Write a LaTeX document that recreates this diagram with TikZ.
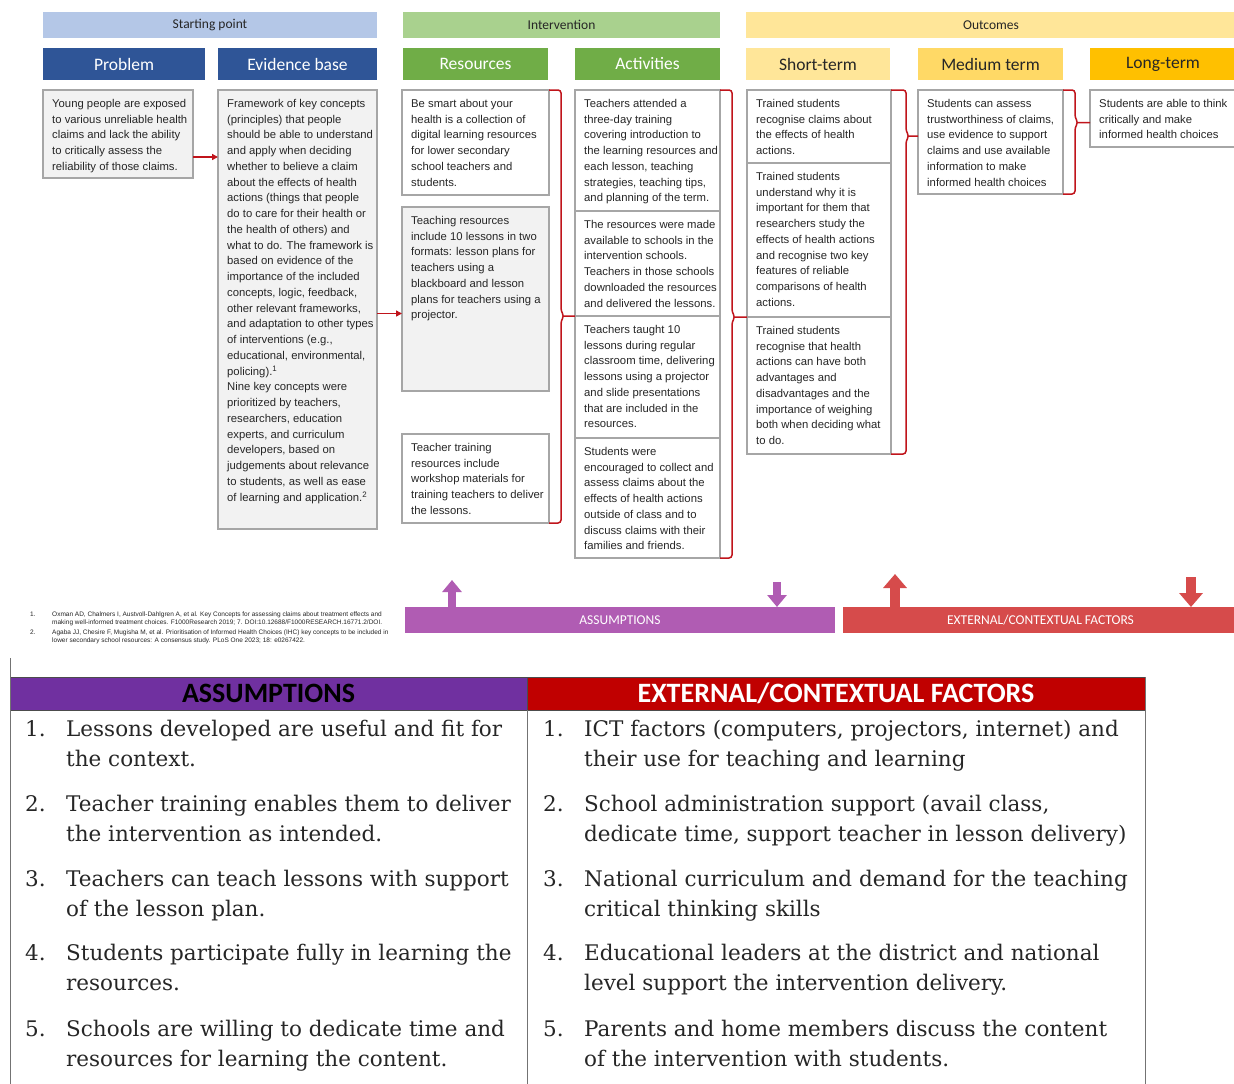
\documentclass[tikz,border=0pt]{standalone}
\usepackage{fontspec}
\setmainfont{Liberation Sans}
\newfontfamily\calib{Carlito}
\newfontfamily\arialf{Liberation Sans}
\newfontfamily\tabserif{DejaVu Serif}
\usetikzlibrary{arrows.meta,calc}

\definecolor{spblue}{HTML}{B4C7E7}
\definecolor{ivgreen}{HTML}{A9D18E}
\definecolor{ocyellow}{HTML}{FFE699}
\definecolor{darkblue}{HTML}{2F5597}
\definecolor{midgreen}{HTML}{70AD47}
\definecolor{medyellow}{HTML}{FFD966}
\definecolor{gold}{HTML}{FFC000}
\definecolor{boxgray}{HTML}{A6A6A6}
\definecolor{boxfill}{HTML}{F2F2F2}
\definecolor{txtgray}{HTML}{262626}
\definecolor{linkred}{HTML}{C0141B}
\definecolor{barpurple}{HTML}{B05CB3}
\definecolor{barred}{HTML}{D64B4B}
\definecolor{thpurple}{HTML}{7030A0}
\definecolor{thred}{HTML}{C00000}

\tikzset{
  band/.style={anchor=north west, inner sep=0pt, outer sep=0pt, minimum height=26pt,
    font=\calib\fontsize{13.5}{15}\selectfont, text=txtgray},
  colhead/.style={anchor=north west, inner sep=0pt, outer sep=0pt, minimum height=32pt,
    font=\calib\fontsize{17.5}{20}\selectfont},
  tbx/.style={draw=boxgray, line width=1.3pt, anchor=north west, inner sep=0pt, outer sep=0pt},
  btxt/.style={anchor=north west, inner sep=0pt, align=left,
    font=\arialf\fontsize{11.3}{15.75}\selectfont, text=txtgray},
  conn/.style={draw=linkred, line width=1.5pt, -{Triangle[length=6pt,width=6pt]}},
  brc/.style={draw=linkred, line width=1.5pt, rounded corners=3pt},
  barlbl/.style={anchor=north west, inner sep=0pt, outer sep=0pt, minimum height=26pt,
    font=\calib\fontsize{13.5}{15}\selectfont, text=white},
  pfat/.style={draw=barpurple, line width=8pt, -{Triangle[length=12pt,width=19pt]}},
  rfat/.style={draw=barred, line width=10pt, -{Triangle[length=14pt,width=23pt]}},
  fnote/.style={anchor=base west, inner sep=0pt, align=left,
    font=\arialf\fontsize{6.5}{8.8}\selectfont, text=txtgray},
  thead/.style={anchor=north west, inner sep=0pt, outer sep=0pt, minimum height=33pt,
    draw=black!70, line width=0.6pt, font=\calib\bfseries\fontsize{28}{30}\selectfont},
  tline/.style={draw=black!55, line width=1pt},
  tnum/.style={anchor=base west, inner sep=0pt, font=\tabserif\fontsize{21.5}{30}\selectfont, text=txtgray},
  titm/.style={anchor=base west, inner sep=0pt, align=left, font=\tabserif\fontsize{21.5}{30}\selectfont, text=txtgray}
}

% box with top-aligned text: name, x, y, width, height, fill, text
\newcommand\tbox[7]{%
  \node[tbx, fill=#6, minimum width=#4pt, minimum height=#5pt] (#1) at (#2,#3) {};
  \node[btxt] (#1t) at ([xshift=9pt,yshift=-9pt]#1.north west) {#7};
}
% right brace from a column of boxes to the next column
\newcommand\rbr[4]{%
  \draw[brc] let \p1=(#1), \p2=(#2), \p3=(#4) in
    (\x1,\y1) -- (\x1+#3,\y1) -- (\x1+#3,\y3+5pt) -- (\x1+#3+3pt,\y3)
    -- (\x1+#3,\y3-5pt) -- (\x1+#3,\y2) -- (\x2,\y2)
    (\x1+#3+2pt,\y3) -- (\x3,\y3);
}

\begin{document}
\begin{tikzpicture}[x=1pt,y=-1pt]
\useasboundingbox[fill=white] (0,0) rectangle (1234,1084);

% ---- group bands ----
\node[band, fill=spblue, minimum width=334pt] (gsp) at (43,12) {Starting point};
\node[band, fill=ivgreen, minimum width=317pt] (giv) at (403,12) {Intervention};
\node[band, fill=ocyellow, minimum width=490pt] (goc) at (746,12) {Outcomes};

% ---- column headings ----
\node[colhead, fill=darkblue, text=white, minimum width=162pt] (hprob) at (43,48) {Problem};
\node[colhead, fill=darkblue, text=white, minimum width=159pt] (hevid) at (218,48) {Evidence base};
\node[colhead, fill=midgreen, text=white, minimum width=145pt] (hres) at (403,48) {Resources};
\node[colhead, fill=midgreen, text=white, minimum width=145pt] (hact) at (575,48) {Activities};
\node[colhead, fill=ocyellow, text=txtgray, minimum width=144pt] (hshort) at (746,48) {Short-term};
\node[colhead, fill=medyellow, text=txtgray, minimum width=145pt] (hmed) at (918,48) {Medium term};
\node[colhead, fill=gold, text=txtgray, minimum width=146pt] (hlong) at (1090,48) {Long-term};

% ---- starting point ----
\tbox{prob}{43}{90}{150}{88}{boxfill}{Young people are exposed\\to various unreliable health\\claims and lack the ability\\to critically assess the\\reliability of those claims.}
\tbox{evid}{218}{90}{159}{439}{boxfill}{Framework of key concepts\\(principles) that people\\should be able to understand\\and apply when deciding\\whether to believe a claim\\about the effects of health\\actions (things that people\\do to care for their health or\\the health of others) and\\what to do. The framework is\\based on evidence of the\\importance of the included\\concepts, logic, feedback,\\other relevant frameworks,\\and adaptation to other types\\of interventions (e.g.,\\educational, environmental,\\policing).\textsuperscript{1}\\Nine key concepts were\\prioritized by teachers,\\researchers, education\\experts, and curriculum\\developers, based on\\judgements about relevance\\to students, as well as ease\\of learning and application.\textsuperscript{2}}

% ---- resources ----
\tbox{res1}{402}{90}{147}{105}{white}{Be smart about your\\health is a collection of\\digital learning resources\\for lower secondary\\school teachers and\\students.}
\tbox{res2}{402}{207}{147}{184}{boxfill}{Teaching resources\\include 10 lessons in two\\formats: lesson plans for\\teachers using a\\blackboard and lesson\\plans for teachers using a\\projector.}
\tbox{res3}{402}{434}{147}{89}{white}{Teacher training\\resources include\\workshop materials for\\training teachers to deliver\\the lessons.}

% ---- activities ----
\tbox{act1}{575}{90}{145}{121}{white}{Teachers attended a\\three-day training\\covering introduction to\\the learning resources and\\each lesson, teaching\\strategies, teaching tips,\\and planning of the term.}
\tbox{act2}{575}{211}{145}{105}{white}{The resources were made\\available to schools in the\\intervention schools.\\Teachers in those schools\\downloaded the resources\\and delivered the lessons.}
\tbox{act3}{575}{316}{145}{122}{white}{Teachers taught 10\\lessons during regular\\classroom time, delivering\\lessons using a projector\\and slide presentations\\that are included in the\\resources.}
\tbox{act4}{575}{438}{145}{120}{white}{Students were\\encouraged to collect and\\assess claims about the\\effects of health actions\\outside of class and to\\discuss claims with their\\families and friends.}

% ---- outcomes ----
\tbox{sh1}{747}{90}{144}{73}{white}{Trained students\\recognise claims about\\the effects of health\\actions.}
\tbox{sh2}{747}{163}{144}{154}{white}{Trained students\\understand why it is\\important for them that\\researchers study the\\effects of health actions\\and recognise two key\\features of reliable\\comparisons of health\\actions.}
\tbox{sh3}{747}{317}{144}{137}{white}{Trained students\\recognise that health\\actions can have both\\advantages and\\disadvantages and the\\importance of weighing\\both when deciding what\\to do.}
\tbox{med}{918}{90}{145}{104}{white}{Students can assess\\trustworthiness of claims,\\use evidence to support\\claims and use available\\information to make\\informed health choices}
\tbox{long}{1090}{90}{150}{57}{white}{Students are able to think\\critically and make\\informed health choices}

% ---- links ----
\draw[conn] ([yshift=21pt]prob.south east) coordinate (pa) -- (pa -| evid.west);
\draw[conn] ([yshift=-4pt]evid.east) coordinate (ea) -- (ea -| res2.west);
\rbr{res1.north east}{res3.south east}{12pt}{act3.north west}
\rbr{act1.north east}{act4.south east}{12pt}{sh3.north west}
\rbr{sh1.north east}{sh3.south east}{15pt}{[yshift=6pt]med.west}
\rbr{med.north east}{med.south east}{12pt}{[yshift=-4pt]long.west}

% ---- references (base anchor sits on the last line) ----
\node[fnote] (fn1n) at (30,616) {1.};
\node[fnote] (fn1) at (52,624.8) {Oxman AD, Chalmers I, Austvoll-Dahlgren A, et al. Key Concepts for assessing claims about treatment effects and\\making well-informed treatment choices. F1000Research 2019; 7. DOI:10.12688/F1000RESEARCH.16771.2/DOI.};
\node[fnote] (fn2n) at (30,634) {2.};
\node[fnote] (fn2) at (52,642.8) {Agaba JJ, Chesire F, Mugisha M, et al. Prioritisation of Informed Health Choices (IHC) key concepts to be included in\\lower secondary school resources: A consensus study. PLoS One 2023; 18: e0267422.};

% ---- assumption / context bars ----
\node[barlbl, fill=barpurple, minimum width=430pt] (abar) at (405,607) {ASSUMPTIONS};
\node[barlbl, fill=barred, minimum width=395pt] (ebar) at (843,607) {EXTERNAL/CONTEXTUAL FACTORS};
\coordinate (au) at (452,580);
\coordinate (ad) at (777,582);
\coordinate (eu) at (895,574);
\coordinate (ed) at (1191,577);
\draw[pfat] (abar.north -| au) -- (au);
\draw[pfat] (ad) -- (abar.north -| ad);
\draw[rfat] (ebar.north -| eu) -- (eu);
\draw[rfat] (ed) -- (ebar.north -| ed);

% ---- table ----
\node[thead, fill=thpurple, text=black, minimum width=517pt] (tha) at (10,677) {ASSUMPTIONS};
\node[thead, fill=thred, text=white, minimum width=618pt] (the) at (527,677) {EXTERNAL/CONTEXTUAL FACTORS};
\draw[tline] (10,658) -- (10,1090);
\draw[tline] (tha.south east) -- (527,1090);
\draw[tline] (the.north east) -- (1145,1090);

% two-line items: the base anchor is the baseline of the second line
\node[tnum] (a1n) at (25,736) {1.};
\node[titm] (a1) at (66,766) {Lessons developed are useful and fit for\\the context.};
\node[tnum] (a2n) at (25,811) {2.};
\node[titm] (a2) at (66,841) {Teacher training enables them to deliver\\the intervention as intended.};
\node[tnum] (a3n) at (25,886) {3.};
\node[titm] (a3) at (66,916) {Teachers can teach lessons with support\\of the lesson plan.};
\node[tnum] (a4n) at (25,960) {4.};
\node[titm] (a4) at (66,990) {Students participate fully in learning the\\resources.};
\node[tnum] (a5n) at (25,1036) {5.};
\node[titm] (a5) at (66,1066) {Schools are willing to dedicate time and\\resources for learning the content.};

\node[tnum] (e1n) at (543,736) {1.};
\node[titm] (e1) at (584,766) {ICT factors (computers, projectors, internet) and\\their use for teaching and learning};
\node[tnum] (e2n) at (543,811) {2.};
\node[titm] (e2) at (584,841) {School administration support (avail class,\\dedicate time, support teacher in lesson delivery)};
\node[tnum] (e3n) at (543,886) {3.};
\node[titm] (e3) at (584,916) {National curriculum and demand for the teaching\\critical thinking skills};
\node[tnum] (e4n) at (543,960) {4.};
\node[titm] (e4) at (584,990) {Educational leaders at the district and national\\level support the intervention delivery.};
\node[tnum] (e5n) at (543,1036) {5.};
\node[titm] (e5) at (584,1066) {Parents and home members discuss the content\\of the intervention with students.};
\end{tikzpicture}
\end{document}
